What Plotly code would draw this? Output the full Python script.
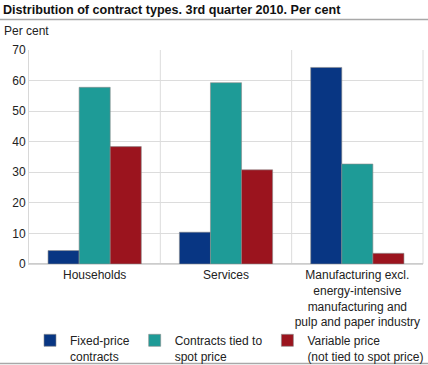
import plotly.graph_objects as go

categories = ["Households", "Services",
              "Manufacturing excl.<br>energy-intensive<br>manufacturing and<br>pulp and paper industry"]
series_names = ["Fixed-price<br>contracts", "Contracts tied to<br>spot price",
                "Variable price<br>(not tied to spot price)"]
fixed_price = [4.4, 10.4, 64.3]
spot_price = [57.8, 59.3, 32.7]
variable_price = [38.4, 30.8, 3.5]
colors = ["#083683", "#1e9b97", "#9b141e"]
y_ticks = [0, 10, 20, 30, 40, 50, 60, 70]

FONT = "Liberation Sans, Arial, sans-serif"
W, H = 428, 365
L, R, T, B = 29, 5, 50, 101
PW, PH = W - L - R, H - T - B

fig = go.Figure()
for name, vals, col in zip(series_names, [fixed_price, spot_price, variable_price], colors):
    fig.add_trace(go.Bar(
        x=categories, y=vals, name=name,
        marker=dict(color=col, line=dict(color="#8a8a8a", width=0.6)),
    ))

fig.update_layout(
    width=W, height=H,
    margin=dict(l=L, r=R, t=T, b=B, autoexpand=False),
    paper_bgcolor="white", plot_bgcolor="white",
    font=dict(family=FONT, size=12, color="#222"),
    barmode="group", bargap=0.29, bargroupgap=0,
    showlegend=True,
    legend=dict(orientation="h", xref="container", yref="container",
                x=30/W, xanchor="left", y=1 - 326/H, yanchor="top",
                bgcolor="rgba(0,0,0,0)",
                font=dict(size=12, family=FONT), valign="top",
                itemclick=False, traceorder="normal"),
    xaxis=dict(showgrid=False, ticks="", tickfont=dict(size=12), automargin=False,
               showline=True, linecolor="#d8d8d8", linewidth=1),
    yaxis=dict(range=[0, 70], tickvals=y_ticks, showgrid=True, gridcolor="#dcdcdc",
               gridwidth=1, zeroline=True, zerolinecolor="#cccccc", ticks="", automargin=False,
               tickfont=dict(size=12), showline=True, linecolor="#d8d8d8", mirror=False),
)

# vertical separators between categories and plot frame
for xv in [0.5, 1.5]:
    fig.add_shape(type="line", xref="x", yref="paper", x0=xv, x1=xv, y0=0, y1=1,
                  line=dict(color="#dcdcdc", width=1), layer="below")
fig.add_shape(type="line", xref="paper", yref="paper", x0=1, x1=1, y0=0, y1=1,
              line=dict(color="#dcdcdc", width=1), layer="below")

# title and rules
fig.add_annotation(text="<b>Distribution of contract types. 3rd quarter 2010. Per cent</b>",
                   xref="paper", yref="paper", x=-(L - 1) / PW, y=1 + (T - 10) / PH,
                   xanchor="left", yanchor="middle", showarrow=False,
                   font=dict(size=12.6, family=FONT, color="#111"))
fig.add_shape(type="line", xref="paper", yref="paper", x0=-L / PW, x1=1 + R / PW,
              y0=1 + (T - 19.5) / PH, y1=1 + (T - 19.5) / PH,
              line=dict(color="#a8a8a8", width=1.5))
fig.add_shape(type="line", xref="paper", yref="paper", x0=-L / PW, x1=1 + R / PW,
              y0=-(363.5 - (H - B)) / PH, y1=-(363.5 - (H - B)) / PH,
              line=dict(color="#a8a8a8", width=1.5))
fig.add_annotation(text="Per cent", xref="paper", yref="paper", x=-(L - 2) / PW,
                   y=1 + (T - 31) / PH, xanchor="left", yanchor="middle", showarrow=False,
                   font=dict(size=12, family=FONT, color="#222"))

fig.write_html("out.html", config={"displayModeBar": False},
               post_script="document.body.style.margin='0';")
